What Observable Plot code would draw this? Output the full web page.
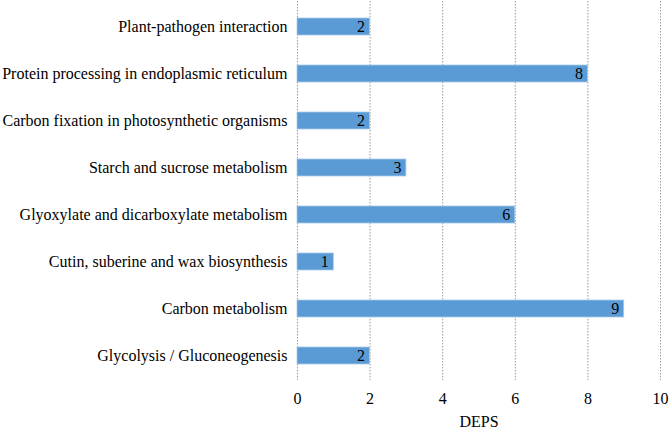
<!DOCTYPE html>
<html><head><meta charset="utf-8">
<script src="https://cdn.jsdelivr.net/npm/d3@7"></script>
<script src="https://cdn.jsdelivr.net/npm/@observablehq/plot@0.6"></script>
<style>
body{margin:0;background:#fff;}
</style></head>
<body><div id="chart"></div>
<script>
const pathways = [
  "Plant-pathogen interaction",
  "Protein processing in endoplasmic reticulum",
  "Carbon fixation in photosynthetic organisms",
  "Starch and sucrose metabolism",
  "Glyoxylate and dicarboxylate metabolism",
  "Cutin, suberine and wax biosynthesis",
  "Carbon metabolism",
  "Glycolysis / Gluconeogenesis"
];
const counts = [2, 8, 2, 3, 6, 1, 9, 2];
const xTicks = [0, 2, 4, 6, 8, 10];
const data = pathways.map((p, i) => ({pathway: p, value: counts[i]}));
const FF = "Liberation Serif";

const chart = Plot.plot({
  width: 670, height: 432,
  marginLeft: 297, marginRight: 10, marginTop: 1, marginBottom: 52,
  style: {fontFamily: FF, fontSize: "16px", background: "#fff"},
  x: {domain: [0, 10], ticks: xTicks, label: null},
  y: {domain: pathways, paddingInner: 0.64, paddingOuter: 0.32, label: null},
  marks: [
    Plot.ruleX(xTicks, {stroke: "#9a9a9a", strokeDasharray: "1.5,1.5", strokeWidth: 1}),
    Plot.barX(data, {x: "value", y: "pathway", fill: "#5b9bd5", stroke: "#a9c8ea", strokeWidth: 0.8}),
    Plot.text(data, {x: "value", y: "pathway", text: d => String(d.value), textAnchor: "end", dx: -5, fill: "#000", fontSize: 16, fontFamily: FF}),
    Plot.axisY({tickSize: 0, tickPadding: 10, fontSize: 16, fill: "#000", fontFamily: FF}),
    Plot.axisX({ticks: xTicks, tickSize: 0, tickPadding: 12, fontSize: 16, fill: "#000", label: null, fontFamily: FF}),
    Plot.text(["DEPS"], {frameAnchor: "bottom", dy: 46, fontSize: 16, fill: "#000", fontFamily: FF})
  ]
});
document.getElementById("chart").appendChild(chart);
</script></body></html>
